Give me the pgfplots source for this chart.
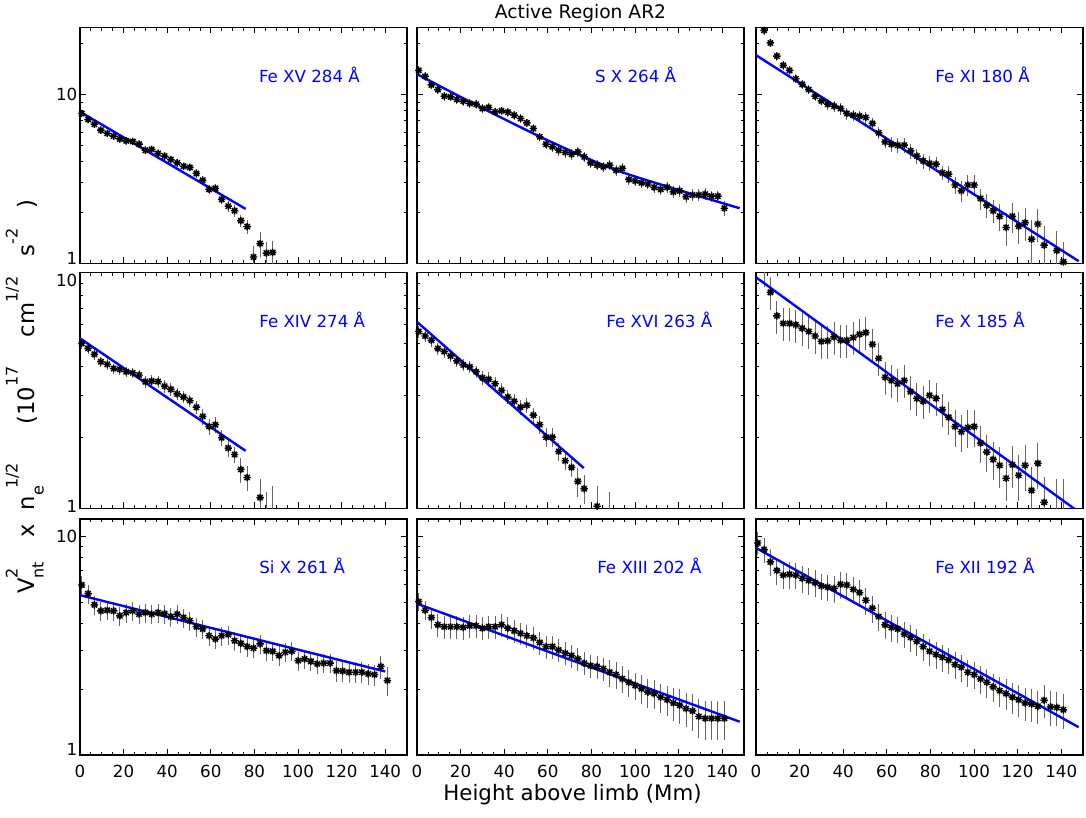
\documentclass[border=0pt]{standalone}
\usepackage{fontspec}
\setmainfont{DejaVu Sans}
\usepackage{pgfplots}
\pgfplotsset{compat=1.18}

% sub/superscripts in the text font
\newcommand{\up}[1]{\raisebox{0.75em}{\fontsize{12}{13}\selectfont #1}}
\newcommand{\dn}[1]{\raisebox{-0.4em}{\fontsize{12}{13}\selectfont #1}}
\newcommand{\lift}[2]{\raisebox{#1}[\height][\depth]{#2}}

% eight-armed asterisk, like the IDL symbol
\pgfdeclareplotmark{ast8}{%
  \pgfpathmoveto{\pgfqpoint{-\pgfplotmarksize}{0pt}}%
  \pgfpathlineto{\pgfqpoint{\pgfplotmarksize}{0pt}}%
  \pgfpathmoveto{\pgfqpoint{0pt}{-\pgfplotmarksize}}%
  \pgfpathlineto{\pgfqpoint{0pt}{\pgfplotmarksize}}%
  \pgfpathmoveto{\pgfqpoint{-0.707\pgfplotmarksize}{-0.707\pgfplotmarksize}}%
  \pgfpathlineto{\pgfqpoint{0.707\pgfplotmarksize}{0.707\pgfplotmarksize}}%
  \pgfpathmoveto{\pgfqpoint{-0.707\pgfplotmarksize}{0.707\pgfplotmarksize}}%
  \pgfpathlineto{\pgfqpoint{0.707\pgfplotmarksize}{-0.707\pgfplotmarksize}}%
  \pgfusepathqstroke}

\pgfplotsset{
  every axis/.append style={
    scale only axis, width=245.25pt, height=177pt,
    xmin=0, xmax=150, ymin=1,
    xtick={0,20,40,60,80,100,120,140}, minor x tick num=3,
    major tick length=4.5pt, minor tick length=2.5pt,
    tick style={black, line width=0.6pt},
    axis line style={line width=0.9pt},
    tick label style={font=\fontsize{12.5}{14}\selectfont},
    yticklabel style={xshift=1.5pt},
    xticklabel style={yshift=-4pt},
  },
}
\tikzset{arlbl/.style={blue, anchor=west, font=\fontsize{12.5}{14}\selectfont}}

\begin{document}
\begin{tikzpicture}
\useasboundingbox (0,0) rectangle (814.5pt,613.5pt);

% ---------- top row ----------
\begin{axis}[ymode=log, at={(60pt,416pt)}, ymax=25,
  ytick={1,10}, minor ytick={2,3,4,5,6,7,8,9,20},
  xticklabels={}, yticklabels={\lift{4pt}{1},10}]
\addplot[only marks, black, mark=ast8, mark size=2.8pt, mark options={line width=1.1pt},
  error bars/.cd, y dir=both, y explicit relative, error mark=none,
  error bar style={black!60, line width=0.7pt}]
  table[x=x, y=y, y error=e, row sep=\\] {
x y e\\
-1.0 10.6 0.05\\ 0.8 7.72 0.04\\ 3.7 7.11 0.04\\ 6.6 6.67 0.04\\ 9.6 6.15 0.04\\
12.5 5.88 0.04\\ 15.4 5.67 0.04\\ 18.3 5.46 0.04\\ 21.2 5.32 0.04\\ 24.2 5.27 0.04\\
27.1 5.08 0.04\\ 30.0 4.68 0.05\\ 32.9 4.73 0.05\\ 35.8 4.48 0.05\\ 38.8 4.32 0.05\\
41.7 4.12 0.05\\ 44.6 3.94 0.05\\ 47.5 3.76 0.05\\ 50.4 3.70 0.05\\ 53.4 3.41 0.06\\
56.3 3.11 0.06\\ 59.2 2.74 0.06\\ 62.1 2.78 0.06\\ 65.0 2.39 0.06\\ 68.0 2.18 0.08\\
70.9 2.05 0.08\\ 73.8 1.79 0.08\\ 76.7 1.65 0.09\\ 79.6 1.09 0.17\\ 82.6 1.31 0.17\\
85.5 1.15 0.17\\ 88.4 1.16 0.17\\
};
\addplot[blue, line width=1.8pt, no marks] coordinates {(0,7.9) (76,2.1)};
\node[arlbl] at (rel axis cs:0.533,0.80) {Fe XV 284 Å};
\end{axis}

\begin{axis}[ymode=log, at={(312.75pt,416pt)}, ymax=25,
  ytick={1,10}, minor ytick={2,3,4,5,6,7,8,9,20},
  xticklabels={}, yticklabels={}]
\addplot[only marks, black, mark=ast8, mark size=2.8pt, mark options={line width=1.1pt},
  error bars/.cd, y dir=both, y explicit relative, error mark=none,
  error bar style={black!60, line width=0.7pt}]
  table[x=x, y=y, y error=e, row sep=\\] {
x y e\\
-1.0 20.9 0.05\\ 0.8 13.9 0.06\\ 3.7 12.8 0.06\\ 6.6 11.4 0.06\\ 9.6 10.7 0.06\\
12.5 9.77 0.06\\ 15.4 9.68 0.06\\ 18.3 9.34 0.06\\ 21.2 9.13 0.06\\ 24.2 8.85 0.06\\
27.1 8.76 0.06\\ 30.0 8.27 0.06\\ 32.9 8.38 0.06\\ 35.8 7.89 0.06\\ 38.8 8.00 0.06\\
41.7 7.86 0.06\\ 44.6 7.54 0.06\\ 47.5 7.21 0.06\\ 50.4 6.79 0.06\\ 53.4 6.29 0.06\\
56.3 5.61 0.06\\ 59.2 5.08 0.06\\ 62.1 4.90 0.07\\ 65.0 4.68 0.07\\ 68.0 4.54 0.07\\
70.9 4.43 0.07\\ 73.8 4.57 0.07\\ 76.7 4.27 0.07\\ 79.6 3.94 0.07\\ 82.6 3.82 0.07\\
85.5 3.73 0.07\\ 88.4 3.82 0.07\\ 91.3 3.56 0.07\\ 94.2 3.65 0.07\\ 97.2 3.14 0.07\\
100.1 3.08 0.07\\ 103.0 3.00 0.07\\ 105.9 2.95 0.07\\ 108.8 2.82 0.07\\ 111.8 2.74 0.07\\
114.7 2.82 0.07\\ 117.6 2.65 0.08\\ 120.5 2.69 0.08\\ 123.4 2.48 0.08\\ 126.4 2.54 0.08\\
129.3 2.54 0.08\\ 132.2 2.57 0.08\\ 135.1 2.50 0.08\\ 138.0 2.50 0.08\\ 141.0 2.12 0.10\\
};
\addplot[blue, line width=1.8pt, no marks, smooth] coordinates {
  (0,13.2) (30,8.3) (60,5.35) (90,3.62) (120,2.72) (148,2.12)};
\node[arlbl] at (rel axis cs:0.530,0.80) {S X 264 Å};
\end{axis}

\begin{axis}[ymode=log, at={(567pt,416pt)}, ymax=25,
  ytick={1,10}, minor ytick={2,3,4,5,6,7,8,9,20},
  xticklabels={}, yticklabels={}]
\addplot[only marks, black, mark=ast8, mark size=2.8pt, mark options={line width=1.1pt},
  error bars/.cd, y dir=both, y explicit relative, error mark=none,
  error bar style={black!60, line width=0.7pt}]
  table[x=x, y=y, y error=e, row sep=\\] {
x y e\\
3.7 24.0 0.06\\ 6.6 20.2 0.06\\ 9.6 16.9 0.06\\ 12.5 14.9 0.06\\ 15.4 13.9 0.06\\
18.3 12.4 0.06\\ 21.2 11.5 0.06\\ 24.2 10.7 0.06\\ 27.1 9.77 0.06\\ 30.0 9.17 0.06\\
32.9 8.76 0.08\\ 35.8 8.53 0.08\\ 38.8 8.27 0.08\\ 41.7 7.72 0.08\\ 44.6 7.54 0.08\\
47.5 7.44 0.08\\ 50.4 7.31 0.08\\ 53.4 6.74 0.08\\ 56.3 5.93 0.08\\ 59.2 5.24 0.08\\
62.1 5.08 0.10\\ 65.0 5.01 0.10\\ 68.0 5.01 0.10\\ 70.9 4.64 0.10\\ 73.8 4.32 0.10\\
76.7 4.05 0.10\\ 79.6 3.91 0.10\\ 82.6 3.87 0.10\\ 85.5 3.44 0.10\\ 88.4 3.38 0.12\\
91.3 2.91 0.12\\ 94.2 2.69 0.14\\ 97.2 2.91 0.14\\ 100.1 2.91 0.14\\ 103.0 2.42 0.14\\
105.9 2.21 0.16\\ 108.8 2.05 0.16\\ 111.8 1.90 0.18\\ 114.7 1.63 0.22\\ 117.6 1.90 0.20\\
120.5 1.66 0.22\\ 123.4 1.74 0.22\\ 126.4 1.39 0.30\\ 129.3 1.71 0.22\\ 132.2 1.28 0.30\\
138.0 1.19 0.30\\ 141.0 1.02 0.32\\
};
\addplot[blue, line width=1.8pt, no marks] coordinates {(0,17.1) (148,1.03)};
\node[arlbl] at (rel axis cs:0.534,0.80) {Fe XI 180 Å};
\end{axis}

% ---------- middle row ----------
\begin{axis}[ymode=log, at={(60pt,232.3pt)}, ymax=10,
  ytick={1,10}, minor ytick={2,3,4,5,6,7,8,9},
  xticklabels={}, yticklabels={\lift{1.5pt}{1},\lift{-6pt}{10}}]
\addplot[only marks, black, mark=ast8, mark size=2.8pt, mark options={line width=1.1pt},
  error bars/.cd, y dir=both, y explicit relative, error mark=none,
  error bar style={black!60, line width=0.7pt}]
  table[x=x, y=y, y error=e, row sep=\\] {
x y e\\
-1.0 7.14 0.05\\ 0.8 4.99 0.05\\ 3.7 4.76 0.05\\ 6.6 4.49 0.05\\ 9.6 4.18 0.05\\
12.5 4.07 0.05\\ 15.4 3.91 0.05\\ 18.3 3.88 0.05\\ 21.2 3.79 0.05\\ 24.2 3.75 0.05\\
27.1 3.67 0.05\\ 30.0 3.44 0.06\\ 32.9 3.46 0.06\\ 35.8 3.44 0.06\\ 38.8 3.29 0.06\\
41.7 3.19 0.06\\ 44.6 3.05 0.06\\ 47.5 2.96 0.06\\ 50.4 2.86 0.06\\ 53.4 2.68 0.06\\
56.3 2.45 0.08\\ 59.2 2.22 0.08\\ 62.1 2.26 0.08\\ 65.0 1.99 0.08\\ 68.0 1.80 0.08\\
70.9 1.69 0.08\\ 73.8 1.46 0.12\\ 76.7 1.35 0.12\\ 82.6 1.11 0.20\\ 85.5 0.92 0.28\\
88.4 0.99 0.25\\
};
\addplot[blue, line width=1.8pt, no marks] coordinates {(0,5.25) (76,1.75)};
\node[arlbl] at (rel axis cs:0.534,0.80) {Fe XIV 274 Å};
\end{axis}

\begin{axis}[ymode=log, at={(312.75pt,232.3pt)}, ymax=10,
  ytick={1,10}, minor ytick={2,3,4,5,6,7,8,9},
  xticklabels={}, yticklabels={}]
\addplot[only marks, black, mark=ast8, mark size=2.8pt, mark options={line width=1.1pt},
  error bars/.cd, y dir=both, y explicit relative, error mark=none,
  error bar style={black!60, line width=0.7pt}]
  table[x=x, y=y, y error=e, row sep=\\] {
x y e\\
-1.0 7.33 0.05\\ 0.8 5.61 0.06\\ 3.7 5.37 0.06\\ 6.6 5.15 0.06\\ 9.6 4.75 0.06\\
12.5 4.61 0.06\\ 15.4 4.42 0.06\\ 18.3 4.21 0.06\\ 21.2 4.05 0.06\\ 24.2 3.97 0.06\\
27.1 3.79 0.06\\ 30.0 3.57 0.07\\ 32.9 3.52 0.07\\ 35.8 3.37 0.07\\ 38.8 3.16 0.07\\
41.7 2.96 0.07\\ 44.6 2.84 0.07\\ 47.5 2.68 0.07\\ 50.4 2.73 0.07\\ 53.4 2.48 0.07\\
56.3 2.26 0.09\\ 59.2 2.00 0.09\\ 62.1 2.00 0.09\\ 65.0 1.74 0.09\\ 68.0 1.59 0.09\\
70.9 1.49 0.09\\ 73.8 1.30 0.14\\ 76.7 1.21 0.14\\ 82.6 1.02 0.22\\ 88.4 0.90 0.30\\
};
\addplot[blue, line width=1.8pt, no marks] coordinates {(0,6.16) (76.5,1.48)};
\node[arlbl] at (rel axis cs:0.565,0.80) {Fe XVI 263 Å};
\end{axis}

\begin{axis}[ymode=log, at={(567pt,232.3pt)}, ymax=10,
  ytick={1,10}, minor ytick={2,3,4,5,6,7,8,9},
  xticklabels={}, yticklabels={}]
\addplot[only marks, black, mark=ast8, mark size=2.8pt, mark options={line width=1.1pt},
  error bars/.cd, y dir=both, y explicit relative, error mark=none,
  error bar style={black!60, line width=0.7pt}]
  table[x=x, y=y, y error=e, row sep=\\] {
x y e\\
3.7 10.8 0.20\\ 6.6 8.22 0.16\\ 9.6 6.54 0.16\\ 12.5 6.07 0.16\\ 15.4 6.07 0.16\\
18.3 5.99 0.16\\ 21.2 5.79 0.16\\ 24.2 5.61 0.16\\ 27.1 5.37 0.16\\ 30.0 5.09 0.16\\
32.9 5.12 0.16\\ 35.8 5.32 0.16\\ 38.8 5.15 0.16\\ 41.7 5.15 0.16\\ 44.6 5.29 0.16\\
47.5 5.46 0.16\\ 50.4 5.55 0.16\\ 53.4 4.95 0.16\\ 56.3 4.32 0.16\\ 59.2 3.59 0.16\\
62.1 3.48 0.16\\ 65.0 3.37 0.16\\ 68.0 3.48 0.16\\ 70.9 3.12 0.16\\ 73.8 2.92 0.16\\
76.7 2.84 0.16\\ 79.6 3.01 0.16\\ 82.6 2.92 0.16\\ 85.5 2.62 0.16\\ 88.4 2.43 0.16\\
91.3 2.22 0.18\\ 94.2 2.11 0.18\\ 97.2 2.20 0.18\\ 100.1 2.22 0.18\\ 103.0 1.89 0.18\\
105.9 1.73 0.18\\ 108.8 1.61 0.18\\ 111.8 1.52 0.20\\ 114.7 1.34 0.20\\ 117.6 1.53 0.20\\
120.5 1.38 0.22\\ 123.4 1.52 0.22\\ 126.4 1.19 0.26\\ 129.3 1.55 0.22\\ 132.2 1.06 0.28\\
138.0 0.95 0.40\\ 141.0 0.95 0.40\\
};
\addplot[blue, line width=1.8pt, no marks] coordinates {(0,9.52) (148,0.965)};
\node[arlbl] at (rel axis cs:0.534,0.80) {Fe X 185 Å};
\end{axis}

% ---------- bottom row ----------
\begin{axis}[ymode=log, at={(60pt,47.25pt)}, ymax=12,
  ytick={1,10}, minor ytick={2,3,4,5,6,7,8,9},
  xticklabels={0,20,40,60,80,100,120,140}, yticklabels={\lift{4pt}{1},10}]
\addplot[only marks, black, mark=ast8, mark size=2.8pt, mark options={line width=1.1pt},
  error bars/.cd, y dir=both, y explicit relative, error mark=none,
  error bar style={black!60, line width=0.7pt}]
  table[x=x, y=y, y error=e, row sep=\\] {
x y e\\
-1.0 8.85 0.05\\ 0.8 5.99 0.10\\ 3.7 5.47 0.10\\ 6.6 4.86 0.10\\ 9.6 4.56 0.10\\
12.5 4.59 0.10\\ 15.4 4.56 0.10\\ 18.3 4.33 0.10\\ 21.2 4.48 0.10\\ 24.2 4.56 0.10\\
27.1 4.41 0.10\\ 30.0 4.48 0.10\\ 32.9 4.41 0.10\\ 35.8 4.48 0.10\\ 38.8 4.43 0.10\\
41.7 4.29 0.10\\ 44.6 4.41 0.10\\ 47.5 4.25 0.10\\ 50.4 4.11 0.10\\ 53.4 3.86 0.10\\
56.3 3.77 0.10\\ 59.2 3.51 0.10\\ 62.1 3.39 0.10\\ 65.0 3.51 0.10\\ 68.0 3.55 0.10\\
70.9 3.33 0.10\\ 73.8 3.24 0.10\\ 76.7 3.13 0.10\\ 79.6 3.08 0.10\\ 82.6 3.22 0.10\\
85.5 3.00 0.10\\ 88.4 2.98 0.10\\ 91.3 2.85 0.10\\ 94.2 2.95 0.10\\ 97.2 2.98 0.10\\
100.1 2.70 0.10\\ 103.0 2.75 0.10\\ 105.9 2.68 0.10\\ 108.8 2.61 0.10\\ 111.8 2.63 0.10\\
114.7 2.63 0.10\\ 117.6 2.43 0.11\\ 120.5 2.42 0.11\\ 123.4 2.39 0.11\\ 126.4 2.39 0.11\\
129.3 2.39 0.11\\ 132.2 2.35 0.11\\ 135.1 2.33 0.11\\ 138.0 2.54 0.12\\ 141.0 2.19 0.15\\
};
\addplot[blue, line width=1.8pt, no marks] coordinates {(0,5.38) (140,2.41)};
\node[arlbl] at (rel axis cs:0.534,0.80) {Si X 261 Å};
\end{axis}

\begin{axis}[ymode=log, at={(312.75pt,47.25pt)}, ymax=12,
  ytick={1,10}, minor ytick={2,3,4,5,6,7,8,9},
  xticklabels={0,20,40,60,80,100,120,140}, yticklabels={}]
\addplot[only marks, black, mark=ast8, mark size=2.8pt, mark options={line width=1.1pt},
  error bars/.cd, y dir=both, y explicit relative, error mark=none,
  error bar style={black!60, line width=0.7pt}]
  table[x=x, y=y, y error=e, row sep=\\] {
x y e\\
-1.0 7.05 0.05\\ 0.8 5.03 0.09\\ 3.7 4.59 0.10\\ 6.6 4.25 0.11\\ 9.6 3.94 0.12\\
12.5 3.86 0.12\\ 15.4 3.86 0.12\\ 18.3 3.86 0.12\\ 21.2 3.83 0.12\\ 24.2 3.90 0.12\\
27.1 3.90 0.12\\ 30.0 3.80 0.12\\ 32.9 3.86 0.12\\ 35.8 3.86 0.12\\ 38.8 3.94 0.12\\
41.7 3.80 0.12\\ 44.6 3.70 0.12\\ 47.5 3.60 0.12\\ 50.4 3.51 0.12\\ 53.4 3.43 0.12\\
56.3 3.27 0.12\\ 59.2 3.13 0.12\\ 62.1 3.13 0.12\\ 65.0 3.02 0.12\\ 68.0 2.92 0.12\\
70.9 2.85 0.12\\ 73.8 2.75 0.12\\ 76.7 2.63 0.12\\ 79.6 2.56 0.12\\ 82.6 2.54 0.12\\
85.5 2.48 0.12\\ 88.4 2.39 0.14\\ 91.3 2.33 0.14\\ 94.2 2.23 0.14\\ 97.2 2.15 0.14\\
100.1 2.08 0.14\\ 103.0 2.01 0.15\\ 105.9 1.94 0.15\\ 108.8 1.91 0.15\\ 111.8 1.84 0.15\\
114.7 1.79 0.16\\ 117.6 1.73 0.17\\ 120.5 1.69 0.18\\ 123.4 1.63 0.18\\ 126.4 1.59 0.19\\
129.3 1.50 0.20\\ 132.2 1.47 0.20\\ 135.1 1.47 0.20\\ 138.0 1.47 0.20\\ 141.0 1.47 0.20\\
};
\addplot[blue, line width=1.8pt, no marks] coordinates {(0,4.92) (148,1.42)};
\node[arlbl] at (rel axis cs:0.537,0.80) {Fe XIII 202 Å};
\end{axis}

\begin{axis}[ymode=log, at={(567pt,47.25pt)}, ymax=12,
  ytick={1,10}, minor ytick={2,3,4,5,6,7,8,9},
  xticklabels={0,20,40,60,80,100,120,140}, yticklabels={}]
\addplot[only marks, black, mark=ast8, mark size=2.8pt, mark options={line width=1.1pt},
  error bars/.cd, y dir=both, y explicit relative, error mark=none,
  error bar style={black!60, line width=0.7pt}]
  table[x=x, y=y, y error=e, row sep=\\] {
x y e\\
0.8 9.32 0.12\\ 3.7 8.70 0.13\\ 6.6 7.64 0.14\\ 9.6 6.98 0.14\\ 12.5 6.65 0.14\\
15.4 6.70 0.14\\ 18.3 6.65 0.14\\ 21.2 6.42 0.14\\ 24.2 6.28 0.14\\ 27.1 6.13 0.14\\
30.0 5.93 0.14\\ 32.9 5.86 0.14\\ 35.8 5.78 0.14\\ 38.8 6.03 0.14\\ 41.7 5.99 0.14\\
44.6 5.72 0.14\\ 47.5 5.53 0.14\\ 50.4 5.10 0.14\\ 53.4 4.69 0.14\\ 56.3 4.29 0.14\\
59.2 3.94 0.14\\ 62.1 3.83 0.14\\ 65.0 3.77 0.14\\ 68.0 3.57 0.14\\ 70.9 3.45 0.14\\
73.8 3.31 0.14\\ 76.7 3.13 0.14\\ 79.6 2.98 0.14\\ 82.6 2.88 0.14\\ 85.5 2.80 0.14\\
88.4 2.72 0.14\\ 91.3 2.59 0.14\\ 94.2 2.52 0.14\\ 97.2 2.39 0.14\\ 100.1 2.33 0.14\\
103.0 2.23 0.15\\ 105.9 2.15 0.15\\ 108.8 2.05 0.15\\ 111.8 1.97 0.16\\ 114.7 1.91 0.16\\
117.6 1.84 0.16\\ 120.5 1.79 0.17\\ 123.4 1.73 0.17\\ 126.4 1.71 0.17\\ 129.3 1.67 0.17\\
132.2 1.78 0.17\\ 135.1 1.66 0.18\\ 138.0 1.65 0.18\\ 141.0 1.61 0.18\\
};
\addplot[blue, line width=1.8pt, no marks] coordinates {(0,8.85) (148,1.34)};
\node[arlbl] at (rel axis cs:0.534,0.80) {Fe XII 192 Å};
\end{axis}

% ---------- titles ----------
\node[anchor=base, font=\fontsize{14}{16}\selectfont] at (435.4pt,599.8pt) {Active Region AR2};
\node[anchor=base, font=\fontsize{16}{18}\selectfont] at (429.4pt,12.75pt) {Height above limb (Mm)};
\node[anchor=base, rotate=90, font=\fontsize{17}{19}\selectfont] at (26pt,316pt)
  {V\rlap{\up{2}}\dn{nt}\hspace{1.1em}x\hspace{0.6em}n\rlap{\dn{e}}\hspace{0.3em}\up{1/2}\hspace{1.7em}(10\up{17}\hspace{1.3em}cm\up{1/2}\hspace{0.9em}s\up{-2}\hspace{0.9em})};
\end{tikzpicture}
\end{document}
